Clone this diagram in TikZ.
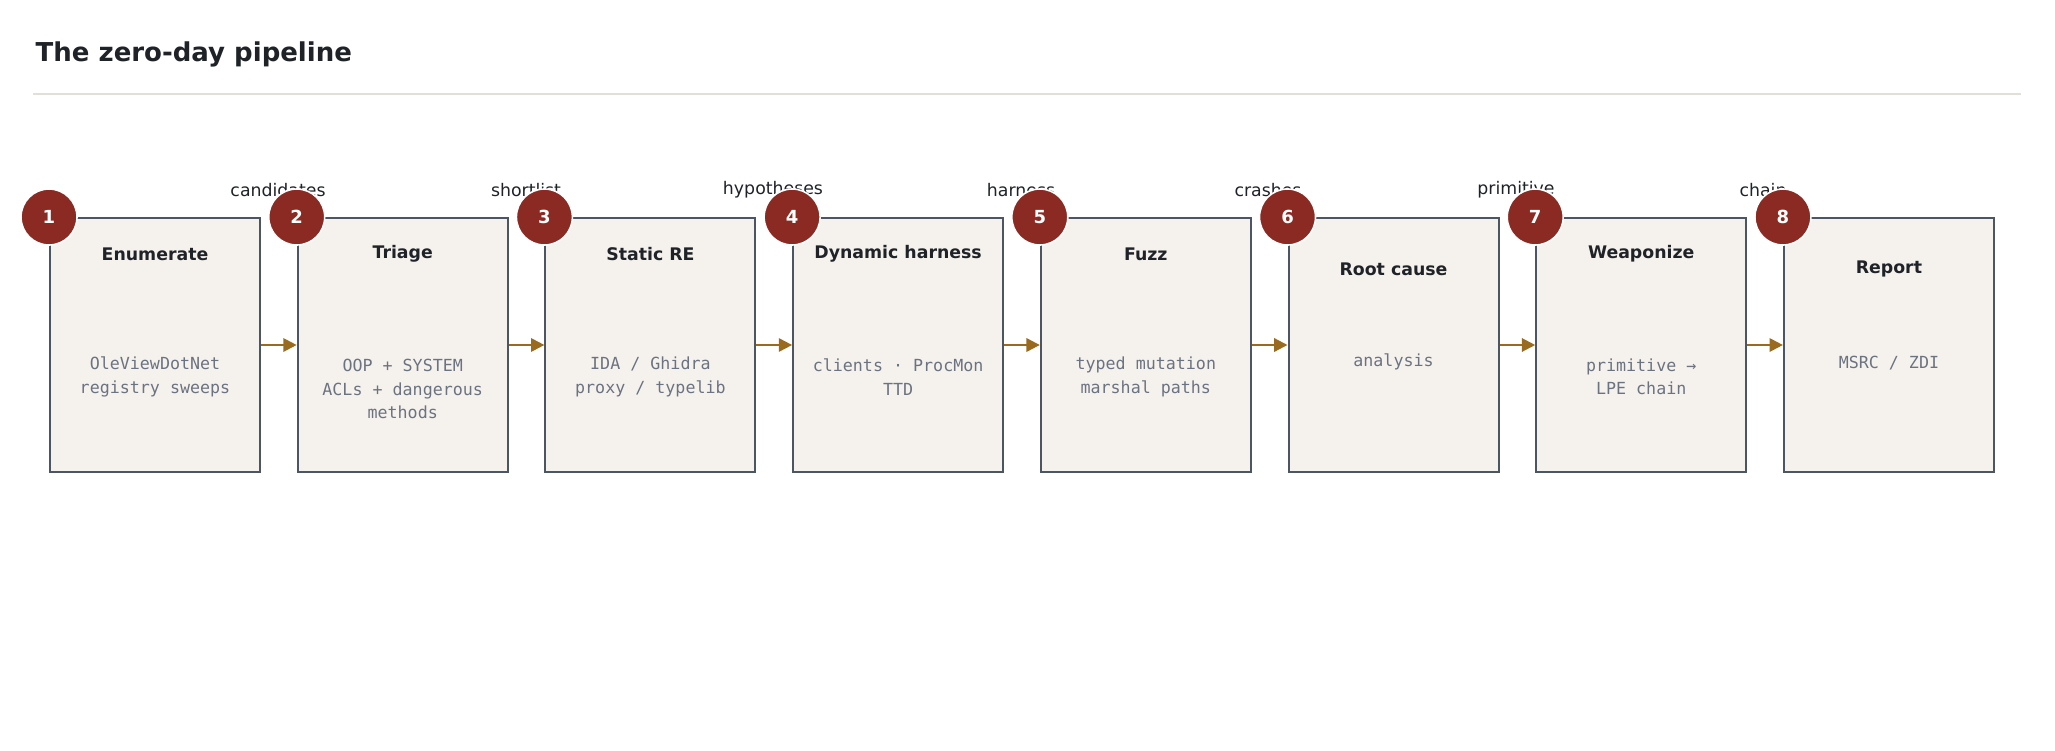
\documentclass[tikz,border=0pt]{standalone}
\usepackage{fontspec}
\setmainfont{DejaVu Sans}
\setmonofont{DejaVu Sans Mono}
\usetikzlibrary{arrows.meta}
\definecolor{ink}{HTML}{1F2328}
\definecolor{edge}{HTML}{4B5563}
\definecolor{paper}{HTML}{F5F2ED}
\definecolor{mute}{HTML}{6B7280}
\definecolor{badge}{HTML}{8B2A22}
\definecolor{flow}{HTML}{9A6A1E}
\definecolor{rule}{HTML}{E0E0D6}
\begin{document}
\begin{tikzpicture}[x=0.75pt, y=-0.75pt]
	\tikzstyle{stageStyle}=[draw = edge, line width = 1.5pt, fill = paper, minimum width = 157.5pt, minimum height = 190.5pt, inner sep = 0pt]
	\tikzstyle{headStyle}=[font = \bfseries\fontsize{13}{15}\selectfont, text = ink]
	\tikzstyle{bodyStyle}=[font = \ttfamily\fontsize{12.5}{17.5}\selectfont, text = mute, align = center]
	\tikzstyle{badgeStyle}=[shape = circle, minimum size = 42pt, inner sep = 0pt, fill = badge, draw = white, line width = 1.2pt, text = white, font = \bfseries\fontsize{13.5}{15}\selectfont]
	\tikzstyle{flowLabel}=[font = \fontsize{13}{15}\selectfont, text = ink]
	\tikzstyle{flowStyle}=[draw = flow, line width = 1.6pt, -{Triangle[length = 10pt, width = 10pt]}]
	\useasboundingbox (0,0) rectangle (2055,750);
	\node[anchor = west, font = \bfseries\fontsize{19.5}{22}\selectfont, text = ink] (title) at (31,54) {The zero-day pipeline};
	\coordinate (r0) at (33,94);
	\coordinate (r1) at (2021,94);
	\draw[rule, line width = 1.2pt] (r0) -- (r1);
	% transition labels
	\node[flowLabel] (l1) at (278,190) {candidates};
	\node[flowLabel] (l2) at (526,190) {shortlist};
	\node[flowLabel] (l3) at (773,190) {hypotheses};
	\node[flowLabel] (l4) at (1021,190) {harness};
	\node[flowLabel] (l5) at (1268,190) {crashes};
	\node[flowLabel] (l6) at (1516,190) {primitive};
	\node[flowLabel] (l7) at (1763,190) {chain};
	% stages
	\foreach \i in {1,...,8}
		\node[stageStyle] (b\i) at ({155+247.7*(\i-1)},345) {};
	\node[headStyle] (h1) at (b1.center |- 0,254) {Enumerate};
	\node[headStyle] (h2) at (b2.center |- 0,254) {Triage};
	\node[headStyle] (h3) at (b3.center |- 0,254) {Static RE};
	\node[headStyle] (h4) at (b4.center |- 0,254) {Dynamic harness};
	\node[headStyle] (h5) at (b5.center |- 0,254) {Fuzz};
	\node[headStyle] (h6) at (b6.center |- 0,269) {Root cause};
	\node[headStyle] (h7) at (b7.center |- 0,254) {Weaponize};
	\node[headStyle] (h8) at (b8.center |- 0,269) {Report};
	\node[bodyStyle] (t1) at (b1.center |- 0,377) {OleViewDotNet\\registry sweeps};
	\node[bodyStyle] (t2) at (b2.center |- 0,389) {OOP + SYSTEM\\ACLs + dangerous\\methods};
	\node[bodyStyle] (t3) at (b3.center |- 0,377) {IDA / Ghidra\\proxy / typelib};
	\node[bodyStyle] (t4) at (b4.center |- 0,377) {clients · ProcMon\\TTD};
	\node[bodyStyle] (t5) at (b5.center |- 0,377) {typed mutation\\marshal paths};
	\node[bodyStyle] (t6) at (b6.center |- 0,362) {analysis};
	\node[bodyStyle] (t7) at (b7.center |- 0,377) {primitive →\\LPE chain};
	\node[bodyStyle] (t8) at (b8.center |- 0,363) {MSRC / ZDI};
	% flow
	\foreach \i [evaluate = \i as \j using int(\i+1)] in {1,...,7}
		\draw[flowStyle] (b\i.east) -- (b\j.west);
	% badges
	\foreach \i in {1,...,8}
		\node[badgeStyle] (c\i) at (b\i.north west) {\i};
\end{tikzpicture}
\end{document}
